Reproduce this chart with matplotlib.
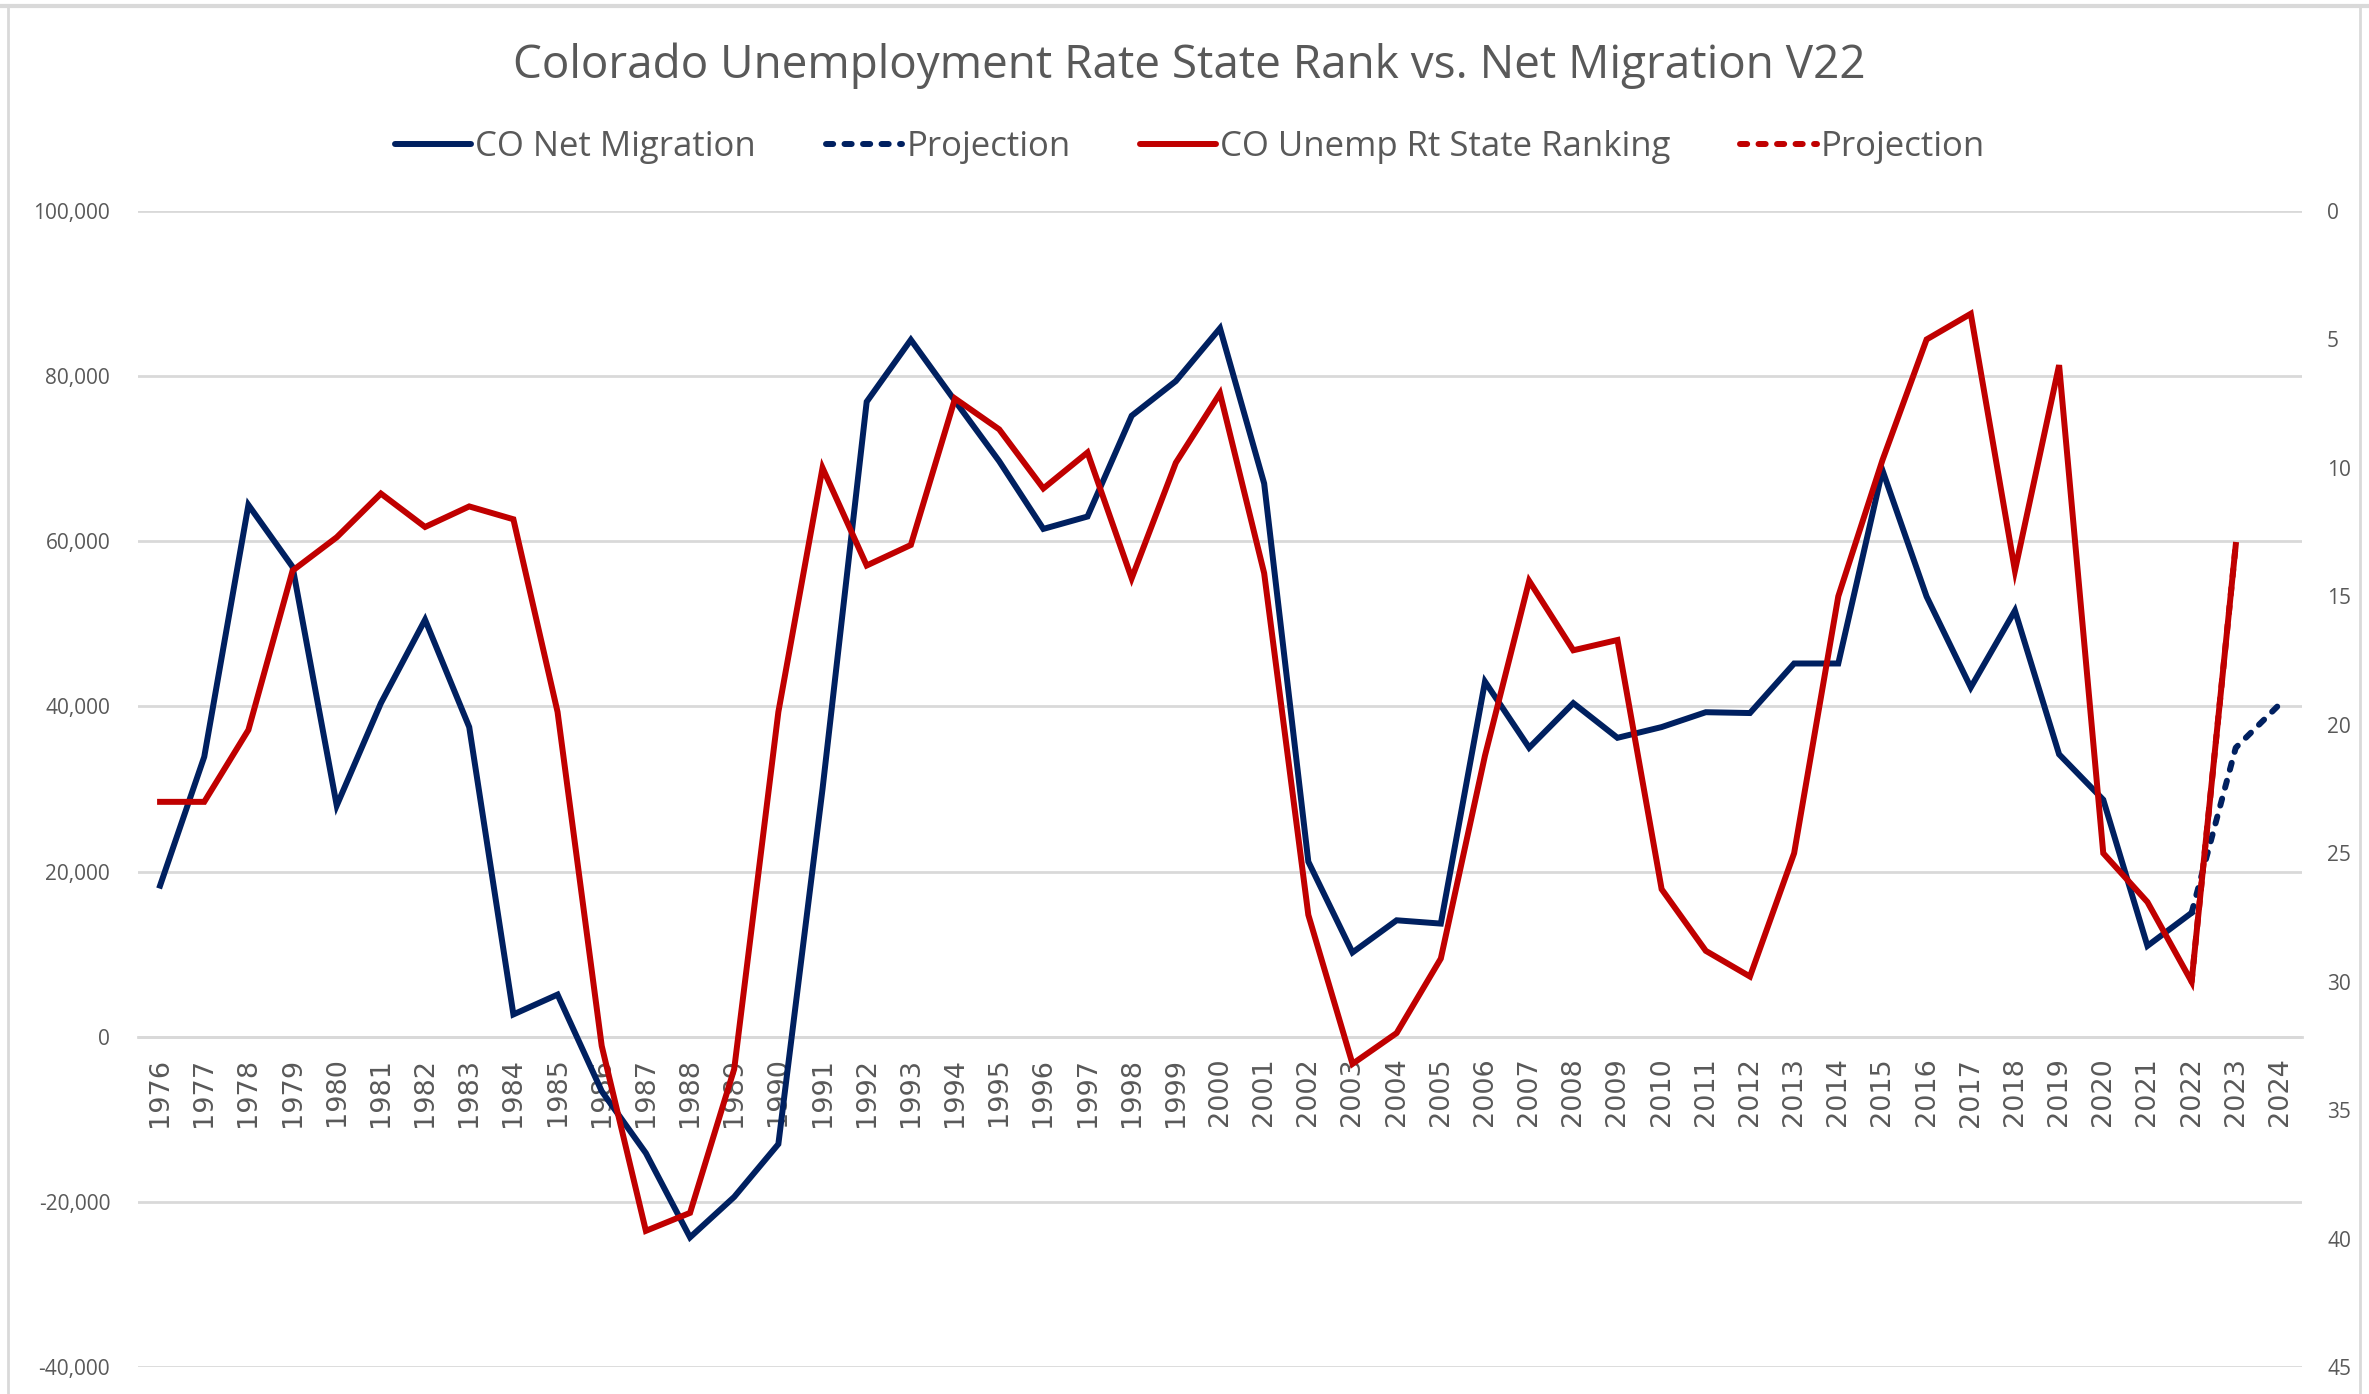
import matplotlib
matplotlib.use("Agg")
import matplotlib.pyplot as plt
from matplotlib.lines import Line2D

# ---------------- data ----------------
years_mig = list(range(1976, 2023))
net_migration = [18300, 33900, 64400, 56900, 28000, 40400, 50500, 37500, 2700, 5100,
                 -6600, -14100, -24300, -19400, -13000, 30000, 76900, 84400, 77000, 69700,
                 61500, 63000, 75200, 79400, 85800, 67000, 21200, 10200, 14100, 13700,
                 43000, 35000, 40400, 36200, 37500, 39300, 39200, 45200, 45200, 68600,
                 53300, 42300, 51600, 34200, 28700, 11000, 15000]
proj_mig_years = [2022, 2023, 2024]
proj_mig = [15000, 35000, 40300]

years_rank = list(range(1976, 2024))
unemp_rank = [23, 23, 20.2, 14, 12.7, 11, 12.3, 11.5, 12, 19.5,
              32.5, 39.7, 39, 33.4, 19.5, 10, 13.8, 13, 7.3, 8.5,
              10.8, 9.4, 14.3, 9.8, 7.1, 14.1, 27.4, 33.2, 32, 29.1,
              21.2, 14.4, 17.1, 16.7, 26.4, 28.8, 29.8, 25, 15, 9.7,
              5, 4, 14, 6, 25, 26.9, 30, 13]
proj_rank_years = [2022, 2023]
proj_rank = [30, 13]

all_years = list(range(1976, 2025))
left_ticks = [-40000, -20000, 0, 20000, 40000, 60000, 80000, 100000]
right_ticks = [0, 5, 10, 15, 20, 25, 30, 35, 40, 45]

title = "Colorado Unemployment Rate State Rank vs. Net Migration V22"
labels = ["CO Net Migration", "Projection", "CO Unemp Rt State Ranking", "Projection"]

# ---------------- style ----------------
BLUE = "#002060"
RED = "#C00000"
GRID = "#D9D9D9"
TXT = "#595959"
FONT = ["Open Sans", "DejaVu Sans"]
LW = 4.3

W, H = 2369, 1394
fig = plt.figure(figsize=(W / 100, H / 100), dpi=100)
fig.patch.set_facecolor("white")

# frame remnants (border of the chart object)
fig.add_artist(Line2D([0, 1], [1 - 6 / H, 1 - 6 / H], color=GRID, lw=3, transform=fig.transFigure))
fig.add_artist(Line2D([8 / W, 8 / W], [0, 1 - 6 / H], color=GRID, lw=2, transform=fig.transFigure))
fig.add_artist(Line2D([2360 / W, 2360 / W], [0, 1 - 6 / H], color=GRID, lw=2, transform=fig.transFigure))

left, right = 138 / W, 2302 / W
top, bottom = 1 - 211 / H, 1 - 1367 / H
ax = fig.add_axes([left, bottom, right - left, top - bottom])
ax2 = ax.twinx()

# spines first (set_position resets tick styling)
ax.spines["bottom"].set_position(("data", 0))
ax.spines["bottom"].set_color(GRID)
ax.spines["bottom"].set_linewidth(2)
for s in ["top", "left", "right"]:
    ax.spines[s].set_visible(False)
for s in ["top", "left", "right", "bottom"]:
    ax2.spines[s].set_visible(False)

ax.set_xlim(1975.5, 2024.5)
ax.set_ylim(-40000, 100000)
ax.set_yticks(left_ticks)
ax.set_yticklabels([f"{v:,}" for v in left_ticks], fontsize=15, color=TXT, family=FONT)
ax.yaxis.grid(True, color=GRID, lw=2)
ax.set_axisbelow(True)
ax.tick_params(axis="y", length=0, pad=20)

ax.set_xticks(all_years)
ax.tick_params(axis="x", length=0, pad=15)
ax.set_xticklabels([str(y) for y in all_years], rotation=90, fontsize=19.5,
                   color=TXT, family="DejaVu Sans", va="top", ha="center")

ax2.set_ylim(45, 0)
ax2.set_yticks(right_ticks)
ax2.set_yticklabels([str(v) for v in right_ticks], fontsize=15, color=TXT, family=FONT)
ax2.tick_params(axis="y", length=0, pad=18)

# lines
dash = (0, (1.2, 1.9))
ax.plot(years_mig, net_migration, color=BLUE, lw=LW, solid_joinstyle="miter", zorder=3)
ax.plot(proj_mig_years, proj_mig, color=BLUE, lw=LW, linestyle=dash, dash_capstyle="round", zorder=3)
ax2.plot(proj_rank_years, proj_rank, color=RED, lw=LW, linestyle=dash, dash_capstyle="round", zorder=2)
ax2.plot(years_rank, unemp_rank, color=RED, lw=LW, solid_joinstyle="miter", zorder=3)

# title
fig.text(1189 / W, 1 - 78 / H, title, ha="center", va="baseline", fontsize=33,
         color=TXT, family=FONT)

# legend
handles = [
    Line2D([], [], color=BLUE, lw=LW, solid_capstyle="round"),
    Line2D([], [], color=BLUE, lw=LW, linestyle=dash, dash_capstyle="round"),
    Line2D([], [], color=RED, lw=LW, solid_capstyle="round"),
    Line2D([], [], color=RED, lw=LW, linestyle=dash, dash_capstyle="round"),
]
fig.legend(handles, labels, loc="center", bbox_to_anchor=(1190 / W, 1 - 147 / H),
           ncol=4, frameon=False, handlelength=2.2, handletextpad=0.12,
           columnspacing=2.0, prop={"family": FONT, "size": 25},
           labelcolor=TXT)

fig.savefig("out.png", dpi=100, facecolor="white")
